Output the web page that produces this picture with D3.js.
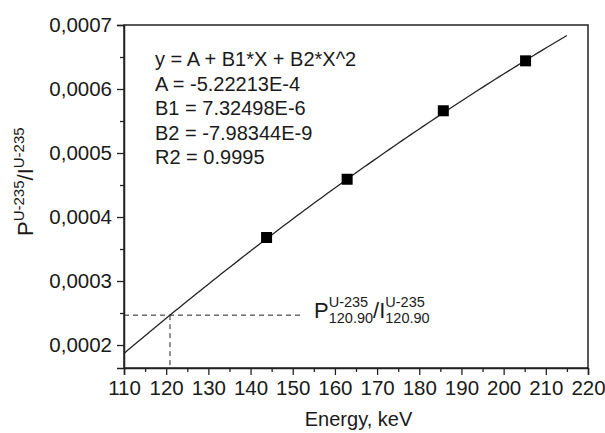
<!DOCTYPE html>
<html>
<head>
<meta charset="utf-8">
<script src="https://cdn.jsdelivr.net/npm/d3@7"></script>
<style>
  body { margin: 0; background: #fff; }
  text { font-family: "Liberation Sans", Arial, sans-serif; fill: #1a1a1a; }
</style>
</head>
<body>
<div id="chart"></div>
<script>
(function fitChart(){
// data
const energies = [143.8, 162.9, 185.7, 205.2];
const ratios = [0.000368, 0.000459, 0.000566, 0.000644];
const fitCoef = { A: -5.22213e-4, B1: 7.32498e-6, B2: -7.98344e-9 };
const fitRange = [110, 215];
const refEnergy = 120.9;
const guideEnd = 152.5;
const xTicks = [110, 120, 130, 140, 150, 160, 170, 180, 190, 200, 210, 220];
const yTicks = [0.0002, 0.0003, 0.0004, 0.0005, 0.0006, 0.0007];
const eqLines = ["y = A + B1*X + B2*X^2", "A = -5.22213E-4", "B1 = 7.32498E-6", "B2 = -7.98344E-9", "R2 = 0.9995"];

let width = 605, height = 433,
margin = ({ top: 25, right: 17, bottom: 65, left: 124 });

const svg = d3.select("#chart")
  .append("svg")
  .attr("width", width)
  .attr("height", height);

let x = d3.scaleLinear()
  .domain([110, 220])
  .range([margin.left, width - margin.right]);

let y = d3.scaleLinear()
  .domain([0.0001641, 0.0007])
  .range([height - margin.bottom, margin.top]);

const fit = e => fitCoef.A + fitCoef.B1 * e + fitCoef.B2 * e * e;

// minor ticks (halfway between majors)
let xMinor = d3.range(115, 220, 10);
let yMinor = d3.range(0.00025, 0.0007, 0.0001);

const fmt = d => d3.format(".4f")(d).replace(".", ",");

svg.append("g")
  .attr("transform", `translate(0,${height - margin.bottom})`)
  .call(d3.axisBottom(x).tickValues(xMinor).tickSize(4).tickFormat(""))
  .call(g => g.select(".domain").remove());
svg.append("g")
  .attr("transform", `translate(${margin.left},0)`)
  .call(d3.axisLeft(y).tickValues(yMinor).tickSize(4).tickFormat(""))
  .call(g => g.select(".domain").remove());

let xAxis = svg.append("g")
  .attr("transform", `translate(0,${height - margin.bottom})`)
  .call(d3.axisBottom(x).tickValues(xTicks).tickSize(7).tickPadding(5));
xAxis.selectAll("text").style("font-size", "20.5px").style("font-family", "Liberation Sans, Arial, sans-serif").attr("fill", "#1a1a1a");

let yAxis = svg.append("g")
  .attr("transform", `translate(${margin.left},0)`)
  .call(d3.axisLeft(y).tickValues(yTicks).tickSize(7).tickPadding(5).tickFormat(fmt));
yAxis.selectAll("text").style("font-size", "20.5px").style("font-family", "Liberation Sans, Arial, sans-serif").attr("fill", "#1a1a1a");

svg.selectAll(".tick line").attr("stroke", "#222").attr("stroke-width", 1.3);
svg.selectAll(".domain").attr("stroke", "#222").attr("stroke-width", 1.5);

// frame top and right
svg.append("rect")
  .attr("x", x(110)).attr("y", y(0.0007))
  .attr("width", x(220) - x(110)).attr("height", y(0.0001641) - y(0.0007))
  .attr("fill", "none").attr("stroke", "#222").attr("stroke-width", 1.5);

// dashed guide lines
svg.append("line")
  .attr("x1", x(110)).attr("x2", x(guideEnd))
  .attr("y1", y(fit(refEnergy))).attr("y2", y(fit(refEnergy)))
  .attr("stroke", "#222").attr("stroke-width", 1).attr("stroke-dasharray", "5,4");
svg.append("line")
  .attr("x1", x(refEnergy)).attr("x2", x(refEnergy))
  .attr("y1", y(fit(refEnergy))).attr("y2", y(0.0001641))
  .attr("stroke", "#222").attr("stroke-width", 1).attr("stroke-dasharray", "5,4");

// fit curve
let curveX = d3.range(fitRange[0], fitRange[1] + 0.01, 1);
svg.append("path")
  .datum(curveX)
  .attr("fill", "none")
  .attr("stroke", "#222")
  .attr("stroke-width", 1.3)
  .attr("d", d3.line().x(d => x(d)).y(d => y(fit(d))));

// points
let s = 11;
svg.selectAll("rect.pt")
  .data(energies)
  .join("rect")
  .attr("class", "pt")
  .attr("x", (d) => x(d) - s / 2)
  .attr("y", (d, i) => y(ratios[i]) - s / 2)
  .attr("width", s).attr("height", s)
  .attr("fill", "#000");

// equation box text
svg.selectAll("text.eq")
  .data(eqLines)
  .join("text")
  .attr("class", "eq")
  .attr("x", 155)
  .attr("y", (d, i) => 66 + i * 24.6)
  .style("font-size", "20px")
  .text(d => d);

// axis titles
svg.append("text")
  .attr("x", x(165.6)).attr("y", 426)
  .attr("text-anchor", "middle")
  .style("font-size", "20px")
  .text("Energy, keV");

let yl = svg.append("text")
  .attr("transform", "translate(33,236) rotate(-90)")
  .style("font-size", "22px");
yl.append("tspan").text("P");
yl.append("tspan").attr("dy", -9).style("font-size", "15px").text("U-235");
yl.append("tspan").attr("dy", 9).text("/I");
yl.append("tspan").attr("dy", -9).style("font-size", "15px").text("U-235");

// annotation with stacked super/subscripts
function stacked(x0, base, sup, sub) {
  let a = svg.append("text").attr("x", x0).attr("y", base - 11).style("font-size", "14.5px").text(sup);
  let b = svg.append("text").attr("x", x0).attr("y", base + 5).style("font-size", "14.5px").text(sub);
  return x0 + Math.max(a.node().getComputedTextLength(), b.node().getComputedTextLength());
}
let base = 318;
let p = svg.append("text").attr("x", 314).attr("y", base).style("font-size", "22px").text("P");
let nx = stacked(314 + p.node().getComputedTextLength(), base, "U-235", "120.90");
let sl = svg.append("text").attr("x", nx).attr("y", base).style("font-size", "22px").text("/I");
stacked(nx + sl.node().getComputedTextLength(), base, "U-235", "120.90");
})();
</script>
</body>
</html>
